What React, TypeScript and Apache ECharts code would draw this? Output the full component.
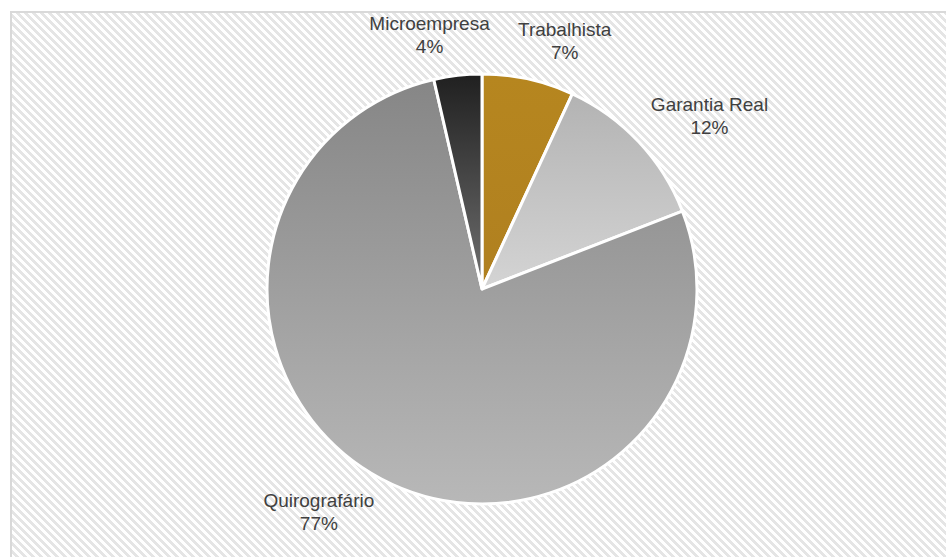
import React, { useEffect, useRef } from "react";
import * as echarts from "echarts";

const categories = ["Trabalhista", "Garantia Real", "Quirografário", "Microempresa"];
const values = [6.9, 12.2, 77.3, 3.6];
const sliceColors = [
  ["#b6861f", "#b08020"],
  ["#b3b3b3", "#d4d4d4"],
  ["#868686", "#b8b8b8"],
  ["#202020", "#707070"],
];

const W = 946;
const H = 557;
const CX = 482;
const CY = 289;
const R = 215;
const LABEL_GAP = 10;
const LABEL_ANGLE_SHIFT = (6 * Math.PI) / 180;
const LABEL_MAX_BOTTOM = H - 22;
const LABEL_MARGIN = 14;
const FONT_SIZE = 19;
const LINE_HEIGHT = 23;
const FONT_FAMILY = "Liberation Sans, Arial, sans-serif";

export default function App() {
  const ref = useRef<HTMLDivElement>(null);
  useEffect(() => {
    if (!ref.current) return;
    const chart = echarts.init(ref.current, null, { renderer: "svg" });
    const total = values.reduce((a, b) => a + b, 0);
    const texts = categories.map(
      (name, i) => `${name}\n${Math.round((values[i] / total) * 100)}%`
    );

    // measure label boxes
    const cvs = document.createElement("canvas");
    const ctx = cvs.getContext("2d")!;
    ctx.font = `${FONT_SIZE}px ${FONT_FAMILY}`;
    const sizes = texts.map((t) => {
      const w = Math.max(...t.split("\n").map((s) => ctx.measureText(s).width));
      return { w, h: LINE_HEIGHT * t.split("\n").length };
    });

    const angles: number[] = [];
    let acc = 0;
    values.forEach((v) => {
      angles.push(((acc + v / 2) / total) * Math.PI * 2 + LABEL_ANGLE_SHIFT);
      acc += v;
    });

    const posAt = (t: number, w: number, h: number) => {
      const dx = Math.sin(t);
      const dy = -Math.cos(t);
      const d = R + LABEL_GAP + Math.abs(dx) * (w / 2) + Math.abs(dy) * (h / 2);
      return { x: CX + dx * d, y: CY + dy * d };
    };

    const positions = angles.map((a, i) => {
      let t = a;
      let p = posAt(t, sizes[i].w, sizes[i].h);
      let guard = 0;
      while (p.y + sizes[i].h / 2 > LABEL_MAX_BOTTOM && guard < 400) {
        t += Math.sin(t) < 0 ? 0.005 : -0.005;
        p = posAt(t, sizes[i].w, sizes[i].h);
        guard++;
      }
      angles[i] = t;
      return p;
    });

    const overlap = (i: number, j: number) => {
      const a = positions[i];
      const b = positions[j];
      return (
        Math.abs(a.x - b.x) < (sizes[i].w + sizes[j].w) / 2 + LABEL_MARGIN * 2 &&
        Math.abs(a.y - b.y) < (sizes[i].h + sizes[j].h) / 2
      );
    };
    for (let i = 0; i < values.length; i++) {
      for (let j = 0; j < values.length; j++) {
        if (i === j) continue;
        if (values[i] > values[j]) continue;
        let guard = 0;
        while (overlap(i, j) && guard < 400) {
          const diff = Math.atan2(Math.sin(angles[i] - angles[j]), Math.cos(angles[i] - angles[j]));
          angles[i] += diff < 0 ? -0.005 : 0.005;
          positions[i] = posAt(angles[i], sizes[i].w, sizes[i].h);
          guard++;
        }
      }
    }

    chart.setOption({
      animation: false,
      backgroundColor: "transparent",
      series: [
        {
          type: "pie",
          center: [CX, CY],
          radius: [0, R],
          startAngle: 90,
          clockwise: true,
          avoidLabelOverlap: false,
          itemStyle: { borderColor: "#ffffff", borderWidth: 3 },
          label: {
            show: true,
            position: "outside",
            color: "#404040",
            fontFamily: FONT_FAMILY,
            fontSize: FONT_SIZE,
            lineHeight: LINE_HEIGHT,
            align: "center",
            formatter: (p: any) => texts[p.dataIndex],
          },
          labelLine: { show: false },
          labelLayout: (params: any) => {
            const p = positions[params.dataIndex];
            return { x: p.x, y: p.y, align: "center", verticalAlign: "middle" };
          },
          emphasis: { disabled: true },
          data: categories.map((name, i) => ({
            name,
            value: values[i],
            itemStyle: {
              color: {
                type: "linear",
                x: 0,
                y: 0,
                x2: 0,
                y2: 1,
                colorStops: [
                  { offset: 0, color: sliceColors[i][0] },
                  { offset: 1, color: sliceColors[i][1] },
                ],
              },
            },
          })),
        },
      ],
    });
    return () => chart.dispose();
  }, []);

  return (
    <div
      style={{
        position: "absolute",
        left: 0,
        top: 0,
        width: W,
        height: H,
        background: "#ffffff",
        overflow: "hidden",
      }}
    >
      <div
        style={{
          position: "absolute",
          left: 10,
          top: 11,
          width: W + 20,
          height: H + 20,
          border: "2px solid #d9d9d9",
          background:
            "repeating-linear-gradient(45deg, #ffffff 0px, #ffffff 2.83px, #e5e5e5 2.83px, #e5e5e5 5.66px)",
        }}
      />
      <div ref={ref} style={{ position: "absolute", left: 0, top: 0, width: W, height: H }} />
    </div>
  );
}
